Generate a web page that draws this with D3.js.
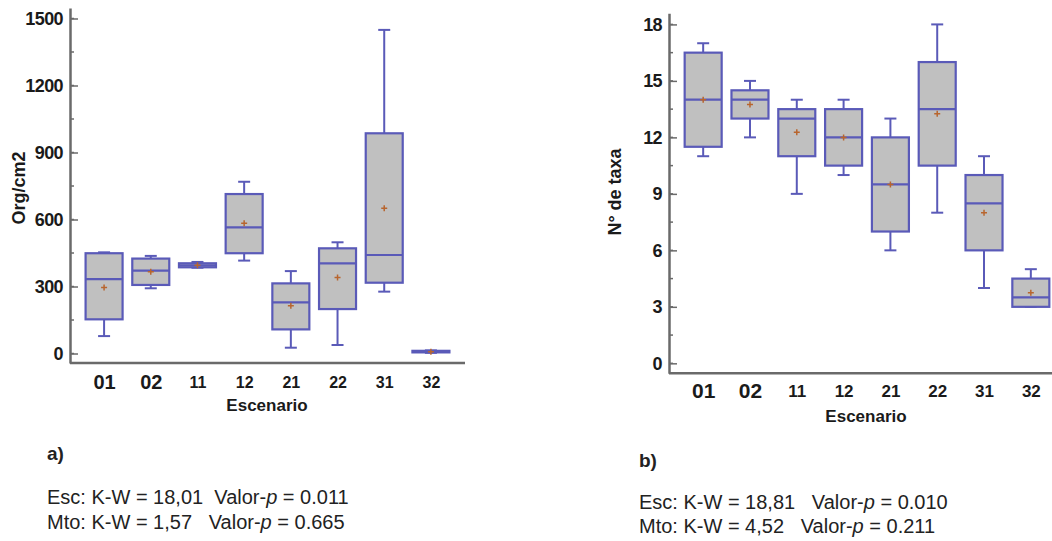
<!DOCTYPE html>
<html>
<head>
<meta charset="utf-8">
<script src="https://cdn.jsdelivr.net/npm/d3@7"></script>
<style>
  body { margin: 0; background: #fff; }
  svg { display: block; font-family: "Liberation Sans", Arial, Helvetica, sans-serif; }
  .lbl { font-family: "Liberation Sans", Arial, sans-serif; font-weight: bold; fill: #1a1a1a; }
  .note { font-family: "Liberation Sans", Arial, sans-serif; fill: #222; }
</style>
</head>
<body>
<div id="chart"></div>
<script>
// categories (escenarios)
const cats = ["01", "02", "11", "12", "21", "22", "31", "32"];

// a) Org/cm2
const minA  = [78, 292, 384, 416, 26, 38, 277, 3];
const q1A   = [153, 307, 386, 449, 108, 199, 317, 5];
const medA  = [333, 371, 395, 565, 229, 404, 441, 8];
const q3A   = [449, 425, 404, 714, 314, 471, 986, 12];
const maxA  = [453, 437, 410, 769, 369, 498, 1449, 14];
const meanA = [296, 366, 395, 583, 214, 340, 650, 8];
const ticksA = [0, 300, 600, 900, 1200, 1500];

// b) N° de taxa
const minB  = [11, 12, 9, 10, 6, 8, 4, 3];
const q1B   = [11.5, 13, 11, 10.5, 7, 10.5, 6, 3];
const medB  = [14, 14, 13, 12, 9.5, 13.5, 8.5, 3.5];
const q3B   = [16.5, 14.5, 13.5, 13.5, 12, 16, 10, 4.5];
const maxB  = [17, 15, 14, 14, 13, 18, 11, 5];
const meanB = [14, 13.75, 12.27, 12, 9.5, 13.25, 8, 3.75];
const ticksB = [0, 3, 6, 9, 12, 15, 18];

const boxStroke = "#5a5ab8";
const boxFill = "#c0c0c0";
const meanColor = "#b8652e";
const axisColor = "#6a6a6a";

const svg = d3.select("#chart").append("svg")
    .attr("width", 1052)
    .attr("height", 541);

function drawPanel(cfg) {
    const rows = cats.map((c, i) => ({
        cat: c, min: cfg.min[i], q1: cfg.q1[i], med: cfg.med[i],
        q3: cfg.q3[i], max: cfg.max[i], mean: cfg.mean[i]
    }));

    const x = d3.scalePoint()
        .domain(cats)
        .range([cfg.x0, cfg.x1])
        .padding(0.73);

    const y = d3.scaleLinear()
        .domain(cfg.yDomain)
        .range([cfg.yBottom, cfg.yTop]);

    const g = svg.append("g");

    // minor ticks
    const minor = d3.range(0, cfg.ticks[cfg.ticks.length - 1] + 0.001, cfg.minorStep);
    g.selectAll("line.minor")
        .data(minor)
        .enter()
        .append("line")
        .attr("x1", cfg.x0)
        .attr("x2", cfg.x0 + 4)
        .attr("y1", d => y(d))
        .attr("y2", d => y(d))
        .attr("stroke", axisColor)
        .attr("stroke-width", 1.5);

    // y axis
    const yAxis = g.append("g")
        .attr("transform", `translate(${cfg.x0},0)`)
        .call(d3.axisLeft(y).tickValues(cfg.ticks).tickFormat(d3.format("d"))
            .tickSizeInner(-8).tickSizeOuter(0).tickPadding(7));
    yAxis.attr("font-family", null);
    yAxis.select(".domain").attr("stroke", axisColor).attr("stroke-width", 2.5);
    yAxis.selectAll(".tick line").attr("stroke", axisColor).attr("stroke-width", 1.5);
    yAxis.selectAll(".tick text")
        .attr("class", "lbl")
        .style("font-size", "18px")
        .style("letter-spacing", "-0.6px");

    // x axis
    const xAxis = g.append("g")
        .attr("transform", `translate(0,${cfg.yBottom})`)
        .call(d3.axisBottom(x).tickSize(0).tickSizeOuter(0));
    xAxis.attr("font-family", null);
    xAxis.select(".domain").attr("stroke", axisColor).attr("stroke-width", 2.5)
        .attr("d", `M${cfg.x0},0H${cfg.x1}`);
    xAxis.selectAll(".tick text")
        .attr("class", "lbl")
        .attr("y", cfg.xLabelDy)
        .attr("dy", "0.36em")
        .style("font-size", (d, i) => i < 2 ? cfg.bigLabel : cfg.smallLabel);

    const bw = 37;
    const boxes = g.selectAll("g.box")
        .data(rows)
        .enter()
        .append("g")
        .attr("class", "box");

    // whiskers
    boxes.append("line")
        .attr("x1", d => x(d.cat)).attr("x2", d => x(d.cat))
        .attr("y1", d => y(d.min)).attr("y2", d => y(d.max))
        .attr("stroke", boxStroke).attr("stroke-width", 2);
    boxes.append("line")
        .attr("x1", d => x(d.cat) - 6).attr("x2", d => x(d.cat) + 6)
        .attr("y1", d => y(d.min)).attr("y2", d => y(d.min))
        .attr("stroke", boxStroke).attr("stroke-width", 2);
    boxes.append("line")
        .attr("x1", d => x(d.cat) - 6).attr("x2", d => x(d.cat) + 6)
        .attr("y1", d => y(d.max)).attr("y2", d => y(d.max))
        .attr("stroke", boxStroke).attr("stroke-width", 2);

    // box
    boxes.append("rect")
        .attr("x", d => x(d.cat) - bw / 2)
        .attr("width", bw)
        .attr("y", d => y(d.q3))
        .attr("height", d => Math.max(y(d.q1) - y(d.q3), 0.5))
        .attr("fill", boxFill)
        .attr("stroke", boxStroke)
        .attr("stroke-width", 2.2);

    // median
    boxes.append("line")
        .attr("x1", d => x(d.cat) - bw / 2).attr("x2", d => x(d.cat) + bw / 2)
        .attr("y1", d => y(d.med)).attr("y2", d => y(d.med))
        .attr("stroke", boxStroke).attr("stroke-width", 2.2);

    // mean +
    boxes.append("path")
        .attr("d", d => {
            const cx = x(d.cat), cy = y(d.mean);
            return `M${cx - 3},${cy}H${cx + 3}M${cx},${cy - 3}V${cy + 3}`;
        })
        .attr("stroke", meanColor).attr("stroke-width", 1.5).attr("fill", "none");

    // axis titles
    g.append("text")
        .attr("class", "lbl")
        .attr("transform", `translate(${cfg.yTitleX},${cfg.yTitleY}) rotate(-90)`)
        .attr("text-anchor", "middle")
        .attr("dy", "0.35em")
        .style("font-size", "18px")
        .text(cfg.yTitle);

    g.append("text")
        .attr("class", "lbl")
        .attr("x", cfg.xTitleX)
        .attr("y", cfg.xTitleY)
        .attr("text-anchor", "middle")
        .attr("dy", "0.35em")
        .style("font-size", "17px")
        .text("Escenario");

    // panel letter and stats
    g.append("text")
        .attr("class", "note")
        .attr("x", cfg.noteX)
        .attr("y", cfg.letterY)
        .style("font-weight", "bold")
        .style("font-size", "19px")
        .text(cfg.letter);

    cfg.stats.forEach((s, i) => {
        const t = g.append("text")
            .attr("class", "note")
            .attr("x", cfg.noteX)
            .attr("y", cfg.statY + i * cfg.statGap)
            .style("font-size", "20px")
            .style("white-space", "pre");
        t.append("tspan").text(s[0]);
        t.append("tspan").style("font-style", "italic").text("p");
        t.append("tspan").text(s[1]);
    });
}

drawPanel({
    min: minA, q1: q1A, med: medA, q3: q3A, max: maxA, mean: meanA,
    ticks: ticksA, minorStep: 150,
    x0: 70, x1: 465, yDomain: [-42.5, 1547], yBottom: 363, yTop: 8,
    xLabelDy: 19, bigLabel: "20px", smallLabel: "16px",
    yTitle: "Org/cm2", yTitleX: 19, yTitleY: 188,
    xTitleX: 267, xTitleY: 405,
    letter: "a)", noteX: 47, letterY: 460, statY: 504, statGap: 25,
    stats: [["Esc: K-W = 18,01  Valor-", " = 0.011"], ["Mto: K-W = 1,57   Valor-", " = 0.665"]]
});

drawPanel({
    min: minB, q1: q1B, med: medB, q3: q3B, max: maxB, mean: meanB,
    ticks: ticksB, minorStep: 1.5,
    x0: 669, x1: 1065, yDomain: [-0.53, 18.59], yBottom: 373.3, yTop: 13.3,
    xLabelDy: 17.5, bigLabel: "21px", smallLabel: "17px",
    yTitle: "N° de taxa", yTitleX: 615, yTitleY: 192,
    xTitleX: 866, xTitleY: 416,
    letter: "b)", noteX: 639, letterY: 467, statY: 509, statGap: 24,
    stats: [["Esc: K-W = 18,81   Valor-", " = 0.010"], ["Mto: K-W = 4,52   Valor-", " = 0.211"]]
});
</script>
</body>
</html>
